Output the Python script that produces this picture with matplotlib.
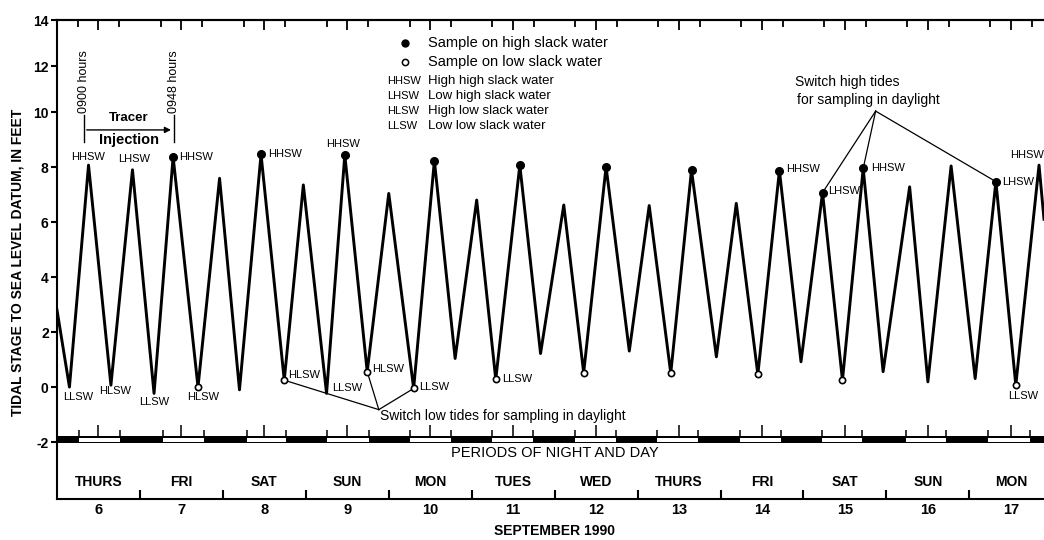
import matplotlib

matplotlib.use("Agg")
import matplotlib.pyplot as plt
import matplotlib.transforms as mtransforms
import numpy as np

plt.rcParams["font.family"] = ["Liberation Sans", "DejaVu Sans"]
plt.rcParams["axes.unicode_minus"] = False

# tide extremes: day of September 1990 and stage in feet
tide_time = [6.00, 6.15, 6.38, 6.65, 6.91, 7.17, 7.40, 7.70, 7.96, 8.20, 8.46, 8.74,
             8.97, 9.25, 9.47, 9.74, 10.00, 10.30, 10.55, 10.80, 11.06, 11.29, 11.58,
             11.83, 12.11, 12.35, 12.62, 12.90, 13.14, 13.40, 13.65, 13.95, 14.19, 14.45,
             14.71, 14.97, 15.23, 15.47, 15.72, 15.96, 16.28, 16.50, 16.78, 17.07, 17.32,
             17.56, 17.84, 17.90]
tide_stage = [2.8, 0.0, 8.07, 0.07, 7.9, -0.23, 8.37, 0.0, 7.59, -0.1, 8.46, 0.25,
              7.35, -0.23, 8.44, 0.56, 7.04, -0.05, 8.23, 1.04, 6.8, 0.28, 8.07,
              1.22, 6.62, 0.52, 8.01, 1.31, 6.6, 0.5, 7.89, 1.1, 6.68, 0.46,
              7.87, 0.92, 7.07, 0.25, 7.95, 0.56, 7.28, 0.19, 8.04, 0.31, 7.47,
              0.07, 8.07, 6.1]

# which extremes were sampled (indices into the tide arrays)
high_sampled = [6, 10, 14, 18, 22, 26, 30, 34, 36, 38, 44]
low_sampled = [7, 11, 15, 17, 21, 25, 29, 33, 37, 45]

# slack water labels: index, text, offset in points, alignment
slack_labels = [
    (2, "HHSW", (0, 6), "center"), (4, "LHSW", (1, 8), "center"),
    (6, "HHSW", (4, 0), "left"), (10, "HHSW", (5, 0), "left"),
    (14, "HHSW", (-1.5, 8), "center"), (1, "LLSW", (6.5, -7), "center"),
    (3, "HLSW", (3, -4), "center"), (5, "LLSW", (0, -6), "center"),
    (7, "HLSW", (4, -7), "center"), (11, "HLSW", (3, 3.6), "left"),
    (13, "LLSW", (4, 3.6), "left"), (15, "HLSW", (3.6, 1.7), "left"),
    (17, "LLSW", (4, 0.7), "left"), (21, "LLSW", (4.3, 0), "left"),
    (34, "HHSW", (4.8, 1), "left"), (36, "LHSW", (3.9, 1.4), "left"),
    (38, "HHSW", (6, 0), "left"), (44, "LHSW", (4.8, 0), "left"),
    (46, "HHSW", (-20.5, 7), "left"), (45, "LLSW", (5, -8), "center"),
]

# daylight periods (sunrise / sunset)
day_start = [6.26, 7.28, 8.29, 9.26, 10.26, 11.25, 12.25, 13.24, 14.24, 15.22, 16.24, 17.23]
day_end = [6.76, 7.77, 8.76, 9.76, 10.75, 11.74, 12.74, 13.73, 14.73, 15.71, 16.72, 17.73]
dates = list(range(6, 18))
day_names = ["THURS", "FRI", "SAT", "SUN", "MON", "TUES", "WED", "THURS",
             "FRI", "SAT", "SUN", "MON"]

injection_start, injection_end = 6.325, 7.408
low_switch = [11, 15, 17]
high_switch = [36, 38, 44]
low_vertex = (9.88, -0.82)
high_vertex = (15.87, 10.04)


def fwd(y):
    y = np.asarray(y, dtype=float)
    return np.where(y <= 10, y, 10 + (y - 10) * 46 / 55)


def inv(v):
    v = np.asarray(v, dtype=float)
    return np.where(v <= 10, v, 10 + (v - 10) * 55 / 46)


fig = plt.figure(figsize=(10.44, 5.4), dpi=100)
ax = fig.add_axes([0.0546, 0.0759, 0.9454, 0.8870])
ax.set_yscale("function", functions=(fwd, inv))
ax.set_xlim(6.0, 17.9)
ax.set_ylim(-4.07, 14)

t = np.array(tide_time)
s = np.array(tide_stage)
ax.plot(t, s, color="black", lw=2.1, zorder=3)
ax.plot(t[high_sampled], s[high_sampled], "o", color="black", ms=5.5, zorder=5)
ax.plot(t[low_sampled], s[low_sampled], "o", mfc="white", mec="black", ms=4.5,
        mew=1.2, zorder=5)

for i, txt, off, ha in slack_labels:
    ax.annotate(txt, (t[i], s[i]), xytext=off, textcoords="offset points",
                ha=ha, va="center", fontsize=8)

# switch annotations
for i in low_switch:
    ax.plot([low_vertex[0], t[i]], [low_vertex[1], s[i]], color="black", lw=0.9, zorder=2)
ax.text(9.90, -1.04, "Switch low tides for sampling in daylight", ha="left",
        va="center", fontsize=10)
for i in high_switch:
    ax.plot([high_vertex[0], t[i]], [high_vertex[1], s[i]], color="black", lw=0.9, zorder=2)
ax.text(14.90, 11.32, "Switch high tides", ha="left", va="center", fontsize=10)
ax.text(14.92, 10.52, "for sampling in daylight", ha="left", va="center", fontsize=10)

# tracer injection
for x0, lab in [(injection_start, "0900 hours"), (injection_end, "0948 hours")]:
    ax.plot([x0, x0], [8.9, 9.9], color="black", lw=1.0)
    ax.text(x0, 9.95, lab, rotation=90, ha="center", va="bottom", fontsize=9)
ax.annotate("", xy=(injection_end, 9.35), xytext=(injection_start, 9.35),
            arrowprops=dict(arrowstyle="-|>", color="black", lw=1.0, mutation_scale=9))
mid = (injection_start + injection_end) / 2
ax.text(mid, 9.77, "Tracer", ha="center", va="center", fontsize=9.5, weight="bold")
ax.text(mid, 8.98, "Injection", ha="center", va="center", fontsize=10.5, weight="bold")

# periods of night and day
ax.broken_barh([(6.0, 11.9)], (-2.03, 0.24), facecolors="black", zorder=2)
ax.broken_barh([(a, b - a) for a, b in zip(day_start, day_end)], (-1.99, 0.13),
               facecolors="white", edgecolors="none", zorder=3)
ax.vlines(day_start + day_end, -1.79, -1.56, color="black", lw=1.1)
ax.vlines([d + 0.5 for d in dates], -1.79, -1.38, color="black", lw=1.1)
ax.text(12.0, -2.39, "PERIODS OF NIGHT AND DAY", ha="center", va="center", fontsize=10.5)
for d, name in zip(dates, day_names):
    ax.text(d + 0.5, -3.45, name, ha="center", va="center", fontsize=10, weight="bold")

# legend
lx, ly = 0.388, [0.921, 0.886]
ax.plot([lx], [ly[0]], "o", color="black", ms=5, transform=fig.transFigure, clip_on=False)
ax.plot([lx], [ly[1]], "o", mfc="white", mec="black", ms=4.5, mew=1.1,
        transform=fig.transFigure, clip_on=False)
fig.text(0.41, ly[0], "Sample on high slack water", va="center", fontsize=10.5)
fig.text(0.41, ly[1], "Sample on low slack water", va="center", fontsize=10.5)
defs = [("HHSW", "High high slack water"), ("LHSW", "Low high slack water"),
        ("HLSW", "High low slack water"), ("LLSW", "Low low slack water")]
for (ab, desc), yy in zip(defs, [0.8506, 0.822, 0.794, 0.767]):
    fig.text(0.3704, yy, ab, va="center", fontsize=8)
    fig.text(0.41, yy, desc, va="center", fontsize=9.5)

# axes styling
for side in ["left", "top", "bottom"]:
    ax.spines[side].set_linewidth(1.5)
ax.spines["right"].set_visible(False)
ax.set_yticks(range(-2, 15, 2))
ax.tick_params(axis="y", direction="out", length=4, width=1.5, labelsize=10, pad=2)
for lbl in ax.get_yticklabels():
    lbl.set_fontweight("bold")
ax.set_xticks([d + 1 for d in dates[:-1]])
ax.set_xticklabels([])
ax.set_xticks([d + 0.5 for d in dates], minor=True)
ax.set_xticklabels([str(d) for d in dates], minor=True, fontsize=10.5, weight="bold")
ax.tick_params(axis="x", which="major", direction="in", length=6.5, width=1.5)
ax.tick_params(axis="x", which="minor", length=0, pad=3)

sec = ax.secondary_xaxis("top")
sec.set_xticks([d + 0.5 for d in dates])
sec.set_xticks([d + f for d in dates for f in (0.25, 0.75)], minor=True)
sec.set_xticklabels([])
sec.tick_params(which="major", direction="in", length=7.5, width=1.3)
sec.tick_params(which="minor", direction="in", length=5, width=1.3)
sec.spines["top"].set_linewidth(1.5)

bt = mtransforms.blended_transform_factory(ax.transData, fig.transFigure)
ax.text(12.0, 0.0167, "SEPTEMBER 1990", transform=bt, ha="center", va="center",
        fontsize=10, weight="bold")
fig.text(0.0165, 0.515, "TIDAL STAGE TO SEA LEVEL DATUM, IN FEET", rotation=90,
         ha="center", va="center", fontsize=10, weight="bold")

fig.savefig("out.png", dpi=100)
